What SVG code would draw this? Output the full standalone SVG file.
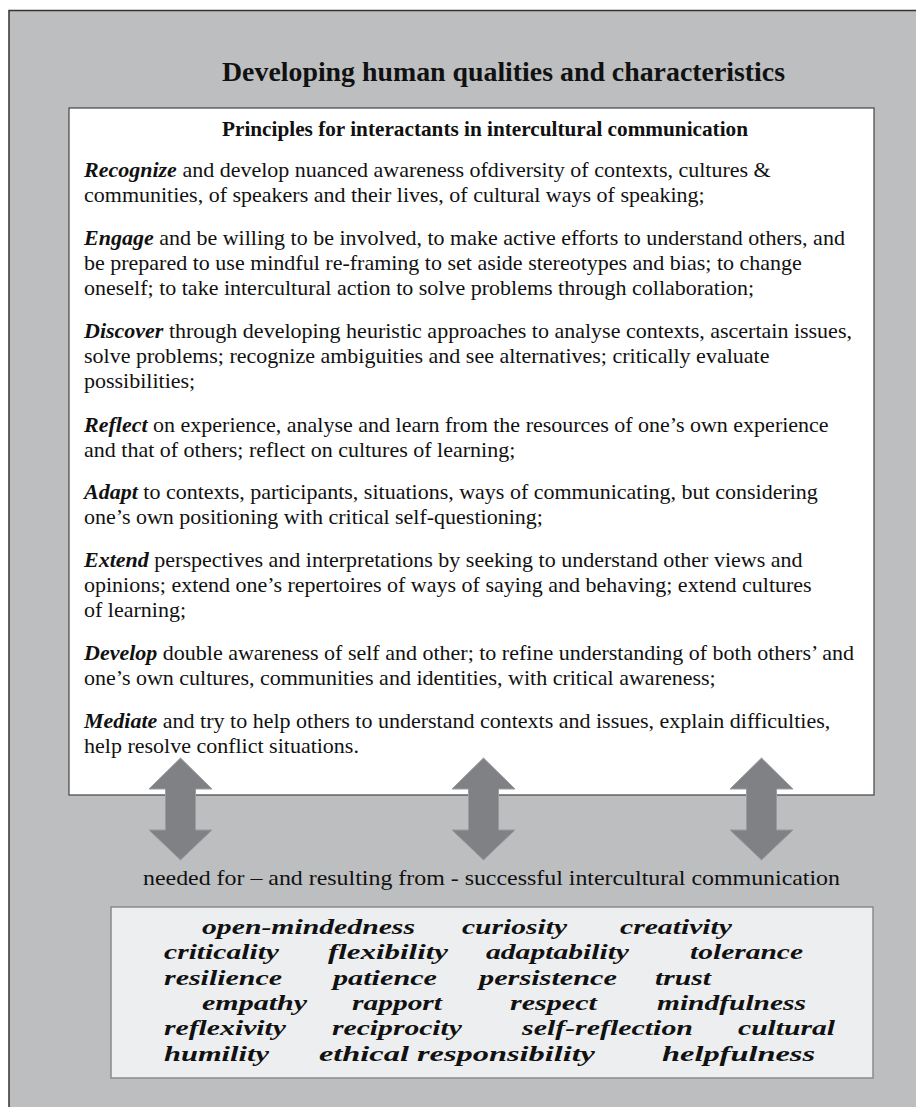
<svg xmlns="http://www.w3.org/2000/svg" width="916" height="1107" viewBox="0 0 916 1107">
<style>
.body{font-family:"Liberation Serif","Times New Roman",serif;font-size:22px;fill:#111}
.kw{font-weight:bold;font-style:italic}
.q{font-family:"Liberation Serif","Times New Roman",serif;font-size:21px;font-weight:bold;font-style:italic;fill:#111}
.arrow{fill:#808184;stroke:#9a9b9e;stroke-width:1}
</style>
<defs>
<path id="dbl" d="M0,758 L31.5,789 L15,789 L15,830 L31.5,830 L0,860 L-31.5,830 L-15,830 L-15,789 L-31.5,789 Z"/>
</defs>
<rect x="0" y="0" width="916" height="1107" fill="#ffffff"/>
<g id="panel">
<rect x="9" y="10.5" width="930" height="1120" fill="#bdbec0" stroke="#333" stroke-width="1.5"/>
</g>
<g id="title">
<text x="222" y="81" font-family="Liberation Serif, Times New Roman, serif" font-size="28" font-weight="bold" fill="#111" textLength="563" lengthAdjust="spacingAndGlyphs">Developing human qualities and characteristics</text>
</g>
<g id="principles">
<rect x="69" y="108" width="805" height="687" fill="#ffffff" stroke="#444" stroke-width="1.2"/>
<text x="222" y="136" font-family="Liberation Serif, Times New Roman, serif" font-size="21" font-weight="bold" fill="#111" textLength="526" lengthAdjust="spacingAndGlyphs">Principles for interactants in intercultural communication</text>
<text class="body">
<tspan x="84" y="177"><tspan class="kw">Recognize</tspan> and develop nuanced awareness ofdiversity of contexts, cultures &amp;</tspan>
<tspan x="84" y="202">communities, of speakers and their lives, of cultural ways of speaking;</tspan>
<tspan x="84" y="245"><tspan class="kw">Engage</tspan> and be willing to be involved, to make active efforts to understand others, and</tspan>
<tspan x="84" y="270">be prepared to use mindful re-framing to set aside stereotypes and bias; to change</tspan>
<tspan x="84" y="295">oneself; to take intercultural action to solve problems through collaboration;</tspan>
<tspan x="84" y="338"><tspan class="kw">Discover</tspan> through developing heuristic approaches to analyse contexts, ascertain issues,</tspan>
<tspan x="84" y="363">solve problems; recognize ambiguities and see alternatives; critically evaluate</tspan>
<tspan x="84" y="388">possibilities;</tspan>
<tspan x="84" y="432"><tspan class="kw">Reflect</tspan> on experience, analyse and learn from the resources of one’s own experience</tspan>
<tspan x="84" y="457">and that of others; reflect on cultures of learning;</tspan>
<tspan x="84" y="499"><tspan class="kw">Adapt</tspan> to contexts, participants, situations, ways of communicating, but considering</tspan>
<tspan x="84" y="524">one’s own positioning with critical self-questioning;</tspan>
<tspan x="84" y="567"><tspan class="kw">Extend</tspan> perspectives and interpretations by seeking to understand other views and</tspan>
<tspan x="84" y="592">opinions; extend one’s repertoires of ways of saying and behaving; extend cultures</tspan>
<tspan x="84" y="617">of learning;</tspan>
<tspan x="84" y="660"><tspan class="kw">Develop</tspan> double awareness of self and other; to refine understanding of both others’ and</tspan>
<tspan x="84" y="685">one’s own cultures, communities and identities, with critical awareness;</tspan>
<tspan x="84" y="728"><tspan class="kw">Mediate</tspan> and try to help others to understand contexts and issues, explain difficulties,</tspan>
<tspan x="84" y="753">help resolve conflict situations.</tspan>
</text>
</g>
<g id="connectors">
<use href="#dbl" x="180.5" class="arrow"/>
<use href="#dbl" x="483.5" class="arrow"/>
<use href="#dbl" x="761.5" class="arrow"/>
</g>
<g id="caption">
<text x="143" y="885" font-family="Liberation Serif, Times New Roman, serif" font-size="21" fill="#111" textLength="697" lengthAdjust="spacingAndGlyphs">needed for – and resulting from - successful intercultural communication</text>
</g>
<g id="qualities">
<rect x="111" y="907" width="762" height="171" fill="#edeef0" stroke="#8a8b8d" stroke-width="1.5"/>
<text class="q" x="202" y="934" textLength="213" lengthAdjust="spacingAndGlyphs">open-mindedness</text>
<text class="q" x="462" y="934" textLength="105" lengthAdjust="spacingAndGlyphs">curiosity</text>
<text class="q" x="620" y="934" textLength="112" lengthAdjust="spacingAndGlyphs">creativity</text>
<text class="q" x="164" y="959" textLength="115" lengthAdjust="spacingAndGlyphs">criticality</text>
<text class="q" x="328" y="959" textLength="120" lengthAdjust="spacingAndGlyphs">flexibility</text>
<text class="q" x="486" y="959" textLength="143" lengthAdjust="spacingAndGlyphs">adaptability</text>
<text class="q" x="690" y="959" textLength="113" lengthAdjust="spacingAndGlyphs">tolerance</text>
<text class="q" x="164" y="985" textLength="118" lengthAdjust="spacingAndGlyphs">resilience</text>
<text class="q" x="333" y="985" textLength="104" lengthAdjust="spacingAndGlyphs">patience</text>
<text class="q" x="479" y="985" textLength="138" lengthAdjust="spacingAndGlyphs">persistence</text>
<text class="q" x="655" y="985" textLength="56" lengthAdjust="spacingAndGlyphs">trust</text>
<text class="q" x="202" y="1010" textLength="105" lengthAdjust="spacingAndGlyphs">empathy</text>
<text class="q" x="352" y="1010" textLength="90" lengthAdjust="spacingAndGlyphs">rapport</text>
<text class="q" x="510" y="1010" textLength="87" lengthAdjust="spacingAndGlyphs">respect</text>
<text class="q" x="657" y="1010" textLength="149" lengthAdjust="spacingAndGlyphs">mindfulness</text>
<text class="q" x="164" y="1035" textLength="122" lengthAdjust="spacingAndGlyphs">reflexivity</text>
<text class="q" x="332" y="1035" textLength="130" lengthAdjust="spacingAndGlyphs">reciprocity</text>
<text class="q" x="522" y="1035" textLength="171" lengthAdjust="spacingAndGlyphs">self-reflection</text>
<text class="q" x="738" y="1035" textLength="97" lengthAdjust="spacingAndGlyphs">cultural</text>
<text class="q" x="164" y="1061" textLength="105" lengthAdjust="spacingAndGlyphs">humility</text>
<text class="q" x="319" y="1061" textLength="276" lengthAdjust="spacingAndGlyphs">ethical responsibility</text>
<text class="q" x="662" y="1061" textLength="153" lengthAdjust="spacingAndGlyphs">helpfulness</text>
</g>
</svg>
